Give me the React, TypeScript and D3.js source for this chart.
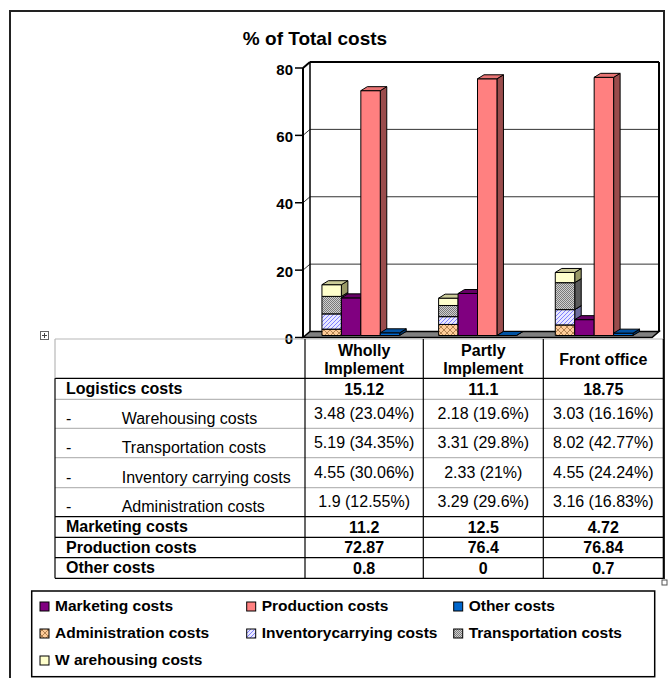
import React from 'react';
import * as d3 from 'd3';

// chart data
const categories = ['Wholly Implement', 'Partly Implement', 'Front office'];
const headerLines = [['Wholly', 'Implement'], ['Partly', 'Implement'], ['Front office']];
const logistics = [15.12, 11.1, 18.75];
const warehousing = [3.48, 2.18, 3.03];
const warehousingPct = [23.04, 19.6, 16.16];
const transportation = [5.19, 3.31, 8.02];
const transportationPct = [34.35, 29.8, 42.77];
const inventory = [4.55, 2.33, 4.55];
const inventoryPct = [30.06, 21, 24.24];
const administration = [1.9, 3.29, 3.16];
const administrationPct = [12.55, 29.6, 16.83];
const marketing = [11.2, 12.5, 4.72];
const production = [72.87, 76.4, 76.84];
const other = [0.8, 0, 0.7];
const yTicks = [0, 20, 40, 60, 80];

const stackKeys = ['administration', 'inventory', 'transportation', 'warehousing'];
const slots = ['stack', 'marketing', 'production', 'other'];

const faces: any = {
  administration: {front: 'url(#pAdmin)', top: '#d8a878', side: '#8c6a48'},
  inventory: {front: 'url(#pInv)', top: '#b0b0e0', side: '#6d6d9e'},
  transportation: {front: 'url(#pTrans)', top: '#909090', side: '#5a5a5a'},
  warehousing: {front: '#FFFFCC', top: '#CCCC99', side: '#999966'},
  marketing: {front: '#800080', top: '#660066', side: '#400040'},
  production: {front: '#FF8080', top: '#E87474', side: '#9a4c4c'},
  other: {front: '#0066CC', top: '#0052a3', side: '#003366'},
};

const legendItems = [
  ['marketing', 'Marketing costs'], ['production', 'Production costs'], ['other', 'Other costs'],
  ['administration', 'Administration costs'], ['inventory', 'Inventorycarrying costs'], ['transportation', 'Transportation costs'],
  ['warehousing', 'W arehousing costs'],
];

const font = '"Liberation Sans", Arial, sans-serif';

const Bar3D = ({x0, x1, yTop, yBot, f}: any) => {
  const dx = 6.5, dy = -4;
  return (
    <g stroke="#000" strokeWidth={1} strokeLinejoin="round">
      <polygon points={`${x1},${yTop} ${x1 + dx},${yTop + dy} ${x1 + dx},${yBot + dy} ${x1},${yBot}`} fill={f.side}/>
      {yBot - yTop > 0 && <rect x={x0} y={yTop} width={x1 - x0} height={yBot - yTop} fill={f.front}/>}
      <polygon points={`${x0},${yTop} ${x0 + dx},${yTop + dy} ${x1 + dx},${yTop + dy} ${x1},${yTop}`} fill={f.top}/>
    </g>
  );
};

const App = () => {
  const table = categories.map((c, i) => ({
    category: c,
    administration: administration[i],
    inventory: inventory[i],
    transportation: transportation[i],
    warehousing: warehousing[i],
  }));
  const stacked = d3.stack<any>().keys(stackKeys)(table);

  const xOuter = d3.scaleBand().domain(categories).range([302.5, 652.5]);
  const xInner = d3.scaleBand().domain(slots).range([0, xOuter.bandwidth()]).paddingOuter(1);
  const yBar = d3.scaleLinear().domain([0, 80]).range([335.5, 66.7]);
  const yWall = d3.scaleLinear().domain([0, 80]).range([331.5, 62]);

  const backL = 310, backR = 659, wdx = 7, wdy = 6;
  const frontL = backL - wdx;

  const bars: any[] = [];
  categories.forEach((c, i) => {
    const bx = (s: string) => (xOuter(c) as number) + (xInner(s) as number);
    const bw = xInner.bandwidth();
    stacked.forEach(layer => {
      const d = layer[i];
      bars.push(<Bar3D key={c + layer.key} x0={bx('stack')} x1={bx('stack') + bw} yTop={yBar(d[1])} yBot={yBar(d[0])} f={faces[layer.key]}/>);
    });
    [['marketing', marketing], ['production', production], ['other', other]].forEach(([k, arr]: any) => {
      bars.push(<Bar3D key={c + k} x0={bx(k)} x1={bx(k) + bw} yTop={yBar(arr[i])} yBot={yBar(0)} f={faces[k]}/>);
    });
  });

  // table layout
  const colX = [55, 305, 423.3, 543.3, 663.3];
  const rowY = [339, 378.3, 399.3, 428.3, 457.7, 487.7, 516.7, 537.3, 557.7, 578.3];
  const pct = (v: number[], p: number[]) => v.map((d, i) => `${d} (${p[i]}%)`);
  const rows = [
    {label: 'Logistics costs', bold: true, values: logistics.map(String)},
    {label: 'Warehousing costs', bold: false, values: pct(warehousing, warehousingPct)},
    {label: 'Transportation costs', bold: false, values: pct(transportation, transportationPct)},
    {label: 'Inventory carrying costs', bold: false, values: pct(inventory, inventoryPct)},
    {label: 'Administration costs', bold: false, values: pct(administration, administrationPct)},
    {label: 'Marketing costs', bold: true, values: marketing.map(String)},
    {label: 'Production costs', bold: true, values: production.map(String)},
    {label: 'Other costs', bold: true, values: other.map(String)},
  ];
  const greyRows = [2, 3, 4, 5];

  const legendCols = [40, 246.7, 453.7];
  const legendRows = [611, 638, 665];

  return (
    <svg width={672} height={678} style={{position: 'absolute', left: 0, top: 0, display: 'block'}} fontFamily={font}>
      <defs>
        <pattern id="pAdmin" width="6" height="6" patternUnits="userSpaceOnUse">
          <rect width="6" height="6" fill="#FFCC99"/>
          <path d="M0,0 L6,6 M6,0 L0,6" stroke="#a07040" strokeWidth="0.8"/>
        </pattern>
        <pattern id="pInv" width="4" height="4" patternUnits="userSpaceOnUse">
          <rect width="4" height="4" fill="#E8E8FF"/>
          <path d="M-1,1 L1,-1 M0,4 L4,0 M3,5 L5,3" stroke="#8080FF" strokeWidth="1"/>
        </pattern>
        <pattern id="pTrans" width="2" height="2" patternUnits="userSpaceOnUse">
          <rect width="2" height="2" fill="#D0D0D0"/>
          <rect width="1" height="1" fill="#7a7a7a"/>
          <rect x="1" y="1" width="1" height="1" fill="#7a7a7a"/>
        </pattern>
      </defs>
      <rect width={672} height={678} fill="#fff"/>

      {/* document frame */}
      <g stroke="#222" strokeWidth={2} fill="none">
        <line x1={10} y1={10} x2={10} y2={678}/>
        <line x1={10} y1={11} x2={664} y2={11}/>
        <line x1={664} y1={10} x2={664} y2={579}/>
      </g>
      <rect x={662} y={580} width={5} height={5} fill="#fff" stroke="#555"/>

      <text x={315} y={45} textAnchor="middle" fontWeight="bold" fontSize={19}>% of Total costs</text>

      {/* walls and floor */}
      <rect x={backL} y={yWall(80)} width={backR - backL} height={yWall(0) - yWall(80)} fill="#fff"/>
      <polygon points={`${frontL},${yWall(80) + wdy} ${backL},${yWall(80)} ${backL},${yWall(0)} ${frontL},${yWall(0) + wdy}`} fill="#fff"/>
      {yTicks.slice(1, 4).map(t => (
        <g key={t} stroke="#333" strokeWidth={1}>
          <line x1={backL} x2={backR} y1={yWall(t)} y2={yWall(t)}/>
          <line x1={frontL} x2={backL} y1={yWall(t) + wdy} y2={yWall(t)}/>
        </g>
      ))}
      <polygon points={`${frontL},${yWall(0) + wdy} ${backL},${yWall(0)} ${backR},${yWall(0)} ${backR - wdx},${yWall(0) + wdy}`}
        fill="#808080" stroke="#000" strokeWidth={1.5}/>
      <g stroke="#000" fill="none">
        <line x1={backL} x2={backR} y1={yWall(80)} y2={yWall(80)} strokeWidth={2}/>
        <line x1={frontL} x2={backL} y1={yWall(80) + wdy} y2={yWall(80)} strokeWidth={2}/>
        <line x1={backR} x2={backR} y1={yWall(80)} y2={yWall(0)} strokeWidth={2}/>
        <line x1={backL} x2={backL} y1={yWall(80)} y2={yWall(0)} strokeWidth={1.5}/>
        <line x1={frontL} x2={frontL} y1={yWall(80) + wdy} y2={yWall(0) + wdy} strokeWidth={2}/>
      </g>
      {yTicks.map(t => (
        <g key={t}>
          <line x1={295} x2={frontL} y1={yWall(t) + wdy} y2={yWall(t) + wdy} stroke="#000" strokeWidth={1.5}/>
          <text x={293} y={yWall(t) + wdy + 6.5} textAnchor="end" fontWeight="bold" fontSize={15}>{t}</text>
        </g>
      ))}

      {bars}

      {/* data table */}
      <g stroke="#000" strokeWidth={1.2}>
        <line x1={colX[0]} x2={colX[4]} y1={rowY[0]} y2={rowY[0]} stroke="#b8b8b8"/>
        {rowY.slice(1).map((y, i) => (
          <line key={y} x1={colX[0]} x2={colX[4]} y1={y} y2={y} stroke={greyRows.includes(i + 1) ? '#b8b8b8' : '#000'}/>
        ))}
        <line x1={colX[0]} x2={colX[0]} y1={rowY[0]} y2={rowY[1]} stroke="#b8b8b8"/>
        <line x1={colX[0]} x2={colX[0]} y1={rowY[1]} y2={rowY[9]}/>
        {colX.slice(1).map(x => <line key={x} x1={x} x2={x} y1={rowY[0]} y2={rowY[9]}/>)}
      </g>
      <rect x={40.5} y={331.5} width={8} height={8} fill="#fff" stroke="#666"/>
      <path d="M44.5,333 V338 M42,335.5 H47" stroke="#444"/>
      {headerLines.map((lines, i) => {
        const cx = (colX[i + 1] + colX[i + 2]) / 2;
        const ys = lines.length === 2 ? [356, 374] : [364.5];
        return lines.map((l, j) => (
          <text key={i + l + j} x={cx} y={ys[j]} textAnchor="middle" fontWeight="bold" fontSize={16}>{l}</text>
        ));
      })}
      {rows.map((r, i) => {
        const bottom = rowY[i + 2];
        return (
          <g key={r.label}>
            {r.bold
              ? <text x={66} y={bottom - 5} fontWeight="bold" fontSize={16}>{r.label}</text>
              : <>
                  <text x={66} y={bottom - 4.5} fontSize={16}>-</text>
                  <text x={121.7} y={bottom - 4.5} fontSize={16}>{r.label}</text>
                </>}
            {r.values.map((v, j) => (
              <text key={j} x={(colX[j + 1] + colX[j + 2]) / 2} y={r.bold ? bottom - 4.5 : bottom - 9.5}
                textAnchor="middle" fontWeight={r.bold ? 'bold' : 'normal'} fontSize={16}>{v}</text>
            ))}
          </g>
        );
      })}

      {/* legend */}
      <rect x={31.7} y={591} width={623} height={85.7} fill="#fff" stroke="#000" strokeWidth={1.5}/>
      {legendItems.map(([k, label], i) => {
        const x = legendCols[i % 3], y = legendRows[Math.floor(i / 3)];
        return (
          <g key={k}>
            <rect x={x} y={y - 9} width={9} height={9} fill={faces[k].front} stroke="#000"/>
            <text x={x + 15} y={y} fontWeight="bold" fontSize={15.5}>{label}</text>
          </g>
        );
      })}
    </svg>
  );
};

export default App;
